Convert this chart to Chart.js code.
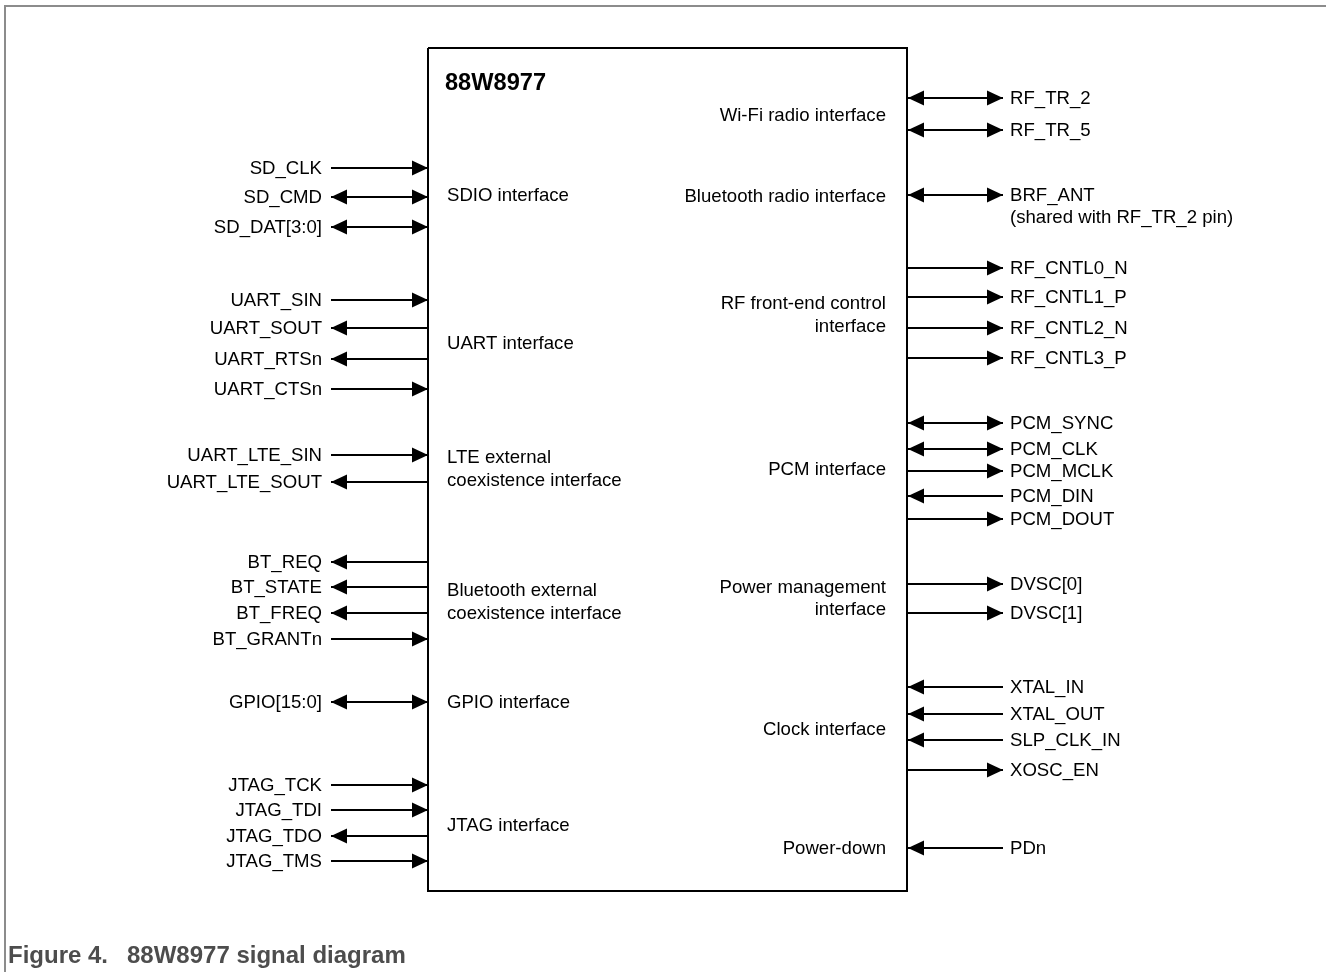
<!DOCTYPE html>
<html><head><meta charset="utf-8">
<script src="https://cdn.jsdelivr.net/npm/chart.js@4/dist/chart.umd.min.js"></script>
<style>html,body{margin:0;padding:0;background:#fff}canvas{display:block}</style>
</head><body>
<canvas id="c" width="1326" height="972"></canvas>
<script>
// ---------- data ----------
const chipName = '88W8977';
const captionParts = ['Figure 4.', '88W8977 signal diagram'];

const leftSignals = ['SD_CLK','SD_CMD','SD_DAT[3:0]','UART_SIN','UART_SOUT','UART_RTSn','UART_CTSn',
  'UART_LTE_SIN','UART_LTE_SOUT','BT_REQ','BT_STATE','BT_FREQ','BT_GRANTn','GPIO[15:0]',
  'JTAG_TCK','JTAG_TDI','JTAG_TDO','JTAG_TMS'];
const leftY = [168,197,227,300,328,359,389,455,482,562,587,613,639,702,785,810,836,861];
const leftDir = ['in','bi','bi','in','out','out','in','in','out','out','out','out','in','bi','in','in','out','in'];

const leftBlocks = ['SDIO interface','UART interface','LTE external','coexistence interface',
  'Bluetooth external','coexistence interface','GPIO interface','JTAG interface'];
const leftBlockY = [195,343,457,480,590,613,702,825];

const rightSignals = ['RF_TR_2','RF_TR_5','BRF_ANT','RF_CNTL0_N','RF_CNTL1_P','RF_CNTL2_N','RF_CNTL3_P',
  'PCM_SYNC','PCM_CLK','PCM_MCLK','PCM_DIN','PCM_DOUT','DVSC[0]','DVSC[1]',
  'XTAL_IN','XTAL_OUT','SLP_CLK_IN','XOSC_EN','PDn'];
const rightY = [98,130,195,268,297,328,358,423,449,471,496,519,584,613,687,714,740,770,848];
const rightDir = ['bi','bi','bi','out','out','out','out','bi','bi','out','in','out','out','out','in','in','in','out','in'];

const rightBlocks = ['Wi-Fi radio interface','Bluetooth radio interface','RF front-end control','interface',
  'PCM interface','Power management','interface','Clock interface','Power-down'];
const rightBlockY = [115,196,303,326,469,587,609,729,848];

const rightNotes = ['(shared with RF_TR_2 pin)'];
const rightNoteY = [217];

// ---------- geometry / style constants ----------
const BOX = {x0:428, x1:907, y0:48, y1:891};
const L_OUT = 331, L_LABEL = 322;
const R_OUT = 1003, R_LABEL = 1010;
const ARROW_LEN = 16, ARROW_HALF = 7.5;
const FONT = '"Liberation Sans", Arial, Helvetica, sans-serif';

// ---------- datasets ----------
const datasets = [];
function seg(pts, color, w){
  datasets.push({data: pts, showLine: true, borderColor: color, borderWidth: w,
    pointRadius: 0, pointHoverRadius: 0, fill: false, tension: 0});
}
// frame
seg([{x:5,y:972},{x:5,y:6},{x:1326,y:6}], '#8c8c8c', 2);
// chip box
seg([{x:BOX.x0,y:BOX.y0},{x:BOX.x1,y:BOX.y0},{x:BOX.x1,y:BOX.y1},{x:BOX.x0,y:BOX.y1},{x:BOX.x0,y:BOX.y0}], '#000', 2);
leftY.forEach(y => seg([{x:L_OUT,y},{x:BOX.x0,y}], '#000', 2));
rightY.forEach(y => seg([{x:BOX.x1,y},{x:R_OUT,y}], '#000', 2));

// ---------- plugin for arrowheads and text ----------
const diagramPlugin = {
  id: 'diagram',
  afterDatasetsDraw(chart){
    const c = chart.ctx, sx = chart.scales.x, sy = chart.scales.y;
    const X = v => sx.getPixelForValue(v), Y = v => sy.getPixelForValue(v);
    function arrow(tipX, y, dirSign){ // dirSign +1 points right, -1 points left
      const tx = X(tipX), py = Y(y);
      c.beginPath();
      c.moveTo(tx, py);
      c.lineTo(tx - dirSign*ARROW_LEN, py - ARROW_HALF);
      c.lineTo(tx - dirSign*ARROW_LEN, py + ARROW_HALF);
      c.closePath();
      c.fillStyle = '#000';
      c.fill();
    }
    c.save();
    leftY.forEach((y,i) => {
      const d = leftDir[i];
      if (d === 'in' || d === 'bi') arrow(BOX.x0, y, 1);
      if (d === 'out' || d === 'bi') arrow(L_OUT, y, -1);
    });
    rightY.forEach((y,i) => {
      const d = rightDir[i];
      if (d === 'in' || d === 'bi') arrow(BOX.x1 + 1, y, -1);
      if (d === 'out' || d === 'bi') arrow(R_OUT, y, 1);
    });
    c.fillStyle = '#000';
    c.textBaseline = 'middle';
    c.font = '18.6px ' + FONT;
    c.textAlign = 'right';
    leftSignals.forEach((t,i) => c.fillText(t, X(L_LABEL), Y(leftY[i]) + 1));
    c.textAlign = 'left';
    rightSignals.forEach((t,i) => c.fillText(t, X(R_LABEL), Y(rightY[i]) + 1));
    rightNotes.forEach((t,i) => c.fillText(t, X(R_LABEL), Y(rightNoteY[i]) + 1));
    leftBlocks.forEach((t,i) => c.fillText(t, X(447), Y(leftBlockY[i]) + 1));
    c.textAlign = 'right';
    rightBlocks.forEach((t,i) => c.fillText(t, X(886), Y(rightBlockY[i]) + 1));
    c.textAlign = 'left';
    c.font = 'bold 23.6px ' + FONT;
    c.fillText(chipName, X(445), Y(82) + 1);
    c.fillStyle = '#4d4d4d';
    c.font = 'bold 24px ' + FONT;
    c.fillText(captionParts[0], X(8), Y(955) + 1);
    c.fillText(captionParts[1], X(127), Y(955) + 1);
    c.restore();
  }
};

new Chart(document.getElementById('c'), {
  type: 'scatter',
  data: {datasets},
  options: {
    responsive: false,
    animation: false,
    events: [],
    layout: {padding: 0},
    plugins: {legend: {display: false}, tooltip: {enabled: false}},
    scales: {
      x: {type: 'linear', min: 0, max: 1326, display: false},
      y: {type: 'linear', min: 0, max: 972, reverse: true, display: false}
    }
  },
  plugins: [diagramPlugin]
});
</script>
</body></html>
